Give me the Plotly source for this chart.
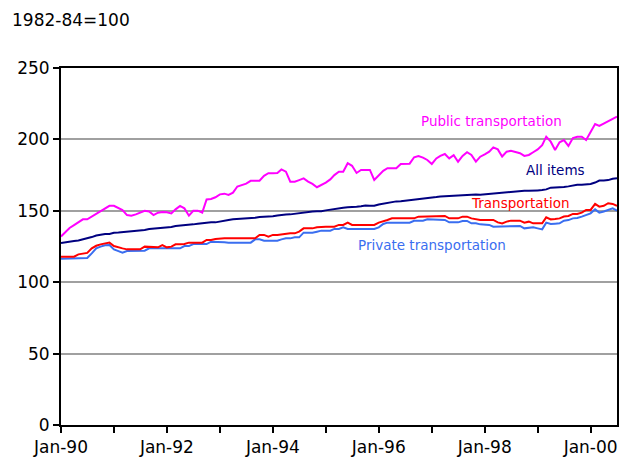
import pandas as pd
import plotly.graph_objects as go

months = pd.date_range("1990-01-01", periods=127, freq="MS")

public_transportation = [
    132, 135, 138, 140, 142, 144, 144, 146, 148, 150, 152, 153.5,
    153.5, 152, 150.5, 147, 146.5, 147.5, 148.5, 150, 149.5, 147, 148.7, 149.2,
    149, 148.2, 151, 153.4, 151.7, 146.6, 150, 150.1, 148.7, 158, 158.3, 159.5,
    161.5, 162, 161.1, 162.7, 167, 168.1, 169, 171, 171.1, 171.1, 174.5, 176.3,
    176.3, 176.5, 179, 177.4, 170.4, 170.4, 171.5, 172.7, 170.4, 168.8, 166.5, 168,
    169.7, 172, 175, 177.4, 177.4, 183.3, 181.5, 176.5, 178.6, 178.6, 178.6, 171.6,
    175, 178, 179.8, 179.8, 179.8, 182.8, 182.8, 183, 187.5, 188.4, 187.2, 185.6,
    182.8, 186.7, 188.5, 189.8, 186.7, 189, 184.4, 188.4, 191, 189.1, 184.4, 187.9,
    189.5, 191.4, 194.4, 193, 188, 191.4, 192.1, 191.4, 190.3, 188.4, 189.1, 191,
    193, 196, 201.9, 198.4, 192.6, 198, 199.5, 195.4, 201, 201.9, 201.9, 199.6,
    205, 210.8, 209.4, 211, 212.4, 214.5, 216,
]

all_items = [
    127.4, 128.0, 128.7, 128.9, 129.2, 129.9, 130.4, 131.6, 132.7, 133.5, 133.8, 133.8,
    134.6, 134.8, 135.0, 135.2, 135.6, 136.0, 136.2, 136.6, 137.2, 137.4, 137.8, 137.9,
    138.1, 138.6, 139.3, 139.5, 139.7, 140.2, 140.5, 140.9, 141.3, 141.8, 142.0, 141.9,
    142.6, 143.1, 143.6, 144.0, 144.2, 144.4, 144.4, 144.8, 145.1, 145.7, 145.8, 145.8,
    146.2, 146.7, 147.2, 147.4, 147.5, 148.0, 148.4, 149.0, 149.4, 149.5, 149.7, 149.7,
    150.3, 150.9, 151.4, 151.9, 152.2, 152.5, 152.5, 152.9, 153.2, 153.7, 153.6, 153.5,
    154.4, 154.9, 155.7, 156.3, 156.6, 156.7, 157.0, 157.3, 157.8, 158.3, 158.6, 158.6,
    159.1, 159.6, 160.0, 160.2, 160.1, 160.3, 160.5, 160.8, 161.2, 161.6, 161.5, 161.3,
    161.6, 161.9, 162.2, 162.5, 162.8, 163.0, 163.2, 163.4, 163.6, 164.0, 164.0, 163.9,
    164.3, 164.5, 165.0, 166.2, 166.2, 166.2, 166.7, 167.1, 167.9, 168.2, 168.3, 168.3,
    168.8, 169.8, 171.2, 171.3, 171.5, 172.4, 172.8,
]

transportation = [
    117.9, 117.9, 117.9, 117.9, 119.5, 120, 120.5, 123.7, 125.5, 126.5, 127.2, 127.7,
    125.3, 124.3, 123.7, 123, 123, 123, 123, 124.9, 124.9, 124.4, 124.4, 126,
    124.4, 124.9, 126.5, 126.5, 126.7, 127.7, 127.7, 127.7, 127.7, 129.6, 129.6, 130.3,
    130.7, 130.7, 130.7, 130.7, 130.7, 130.7, 130.7, 130.7, 130.7, 133.1, 133.1, 131.9,
    133.1, 133.1, 133.5, 133.5, 134.2, 134.2, 135.4, 137.7, 137.7, 137.7, 138.4, 138.9,
    138.9, 138.9, 138.9, 140.1, 140.1, 141.7, 140.1, 140.1, 140.1, 140.1, 140.1, 140.1,
    141.7, 142.5, 143.6, 144.7, 144.7, 144.7, 144.7, 144.7, 144.7, 145.9, 145.9, 146.4,
    146.4, 146.4, 146.4, 146.4, 144.7, 144.7, 144.7, 145.9, 145.9, 144.7, 144, 143.6,
    143.6, 143.6, 143.6, 141.9, 141.2, 142.4, 143.1, 143.1, 143.1, 141.7, 142.4, 141.2,
    141.2, 141.2, 145.4, 144, 144.2, 144.7, 146, 146.4, 147.8, 147.8, 148.7, 150.6,
    150.6, 154.8, 152.9, 153.5, 155.3, 154.8, 153.4,
]

private_transportation = [
    116.5, 116.5, 116.5, 116.5, 116.5, 116.5, 117, 120.2, 123.7, 124.9, 125.8, 126,
    123, 121.8, 120.7, 121.8, 121.8, 121.8, 121.8, 122.1, 123.7, 123.7, 123.7, 123.7,
    123.7, 123.7, 123.7, 123.7, 125.3, 125.3, 126.7, 126.7, 126.7, 126.7, 128.4, 128.4,
    128.4, 128, 127.7, 127.7, 127.7, 127.7, 127.7, 127.7, 130, 130, 129.1, 129.1,
    129.1, 129.1, 130, 130.7, 130.7, 131.4, 131.4, 134.7, 134.7, 134.7, 135.4, 136.1,
    136.1, 136.1, 137.3, 137.3, 138.4, 137.3, 137.3, 137.3, 137.3, 137.3, 137.3, 137.3,
    138.4, 140.8, 141.7, 141.7, 141.7, 141.7, 141.7, 141.7, 143, 143, 143, 144,
    144, 144, 143.6, 143.6, 141.9, 141.9, 141.9, 142.9, 142.9, 141.2, 141.2, 140.5,
    140.5, 140.1, 138.9, 138.9, 138.9, 139.4, 139.4, 139.4, 139.4, 137.7, 138, 138.4,
    137.7, 137, 141.7, 140.8, 141, 141.2, 143.1, 143.5, 144.7, 145, 145.9, 147.1,
    148.2, 151, 148.7, 149.5, 150.6, 151.7, 150.1,
]

tick_dates = pd.date_range("1990-01-01", periods=11, freq="YS")
tick_labels = ["Jan-90", "", "Jan-92", "", "Jan-94", "", "Jan-96", "", "Jan-98", "", "Jan-00"]

series_names = ["Public transportation", "All items", "Transportation", "Private transportation"]
series_colors = ["#FF00FF", "#000080", "#FF0000", "#3A6EF0"]
series_values = [public_transportation, all_items, transportation, private_transportation]

FONT = "DejaVu Sans"

fig = go.Figure()
for name, color, vals in reversed(list(zip(series_names, series_colors, series_values))):
    fig.add_trace(go.Scatter(x=months, y=vals, mode="lines", name=name,
                             line=dict(color=color, width=2), showlegend=False))

label_pos = {
    "Public transportation": ("1998-02-15", 213),
    "All items": ("1999-05-01", 178.5),
    "Transportation": ("1998-09-01", 155.5),
    "Private transportation": ("1997-01-01", 126),
}
for name, color in zip(series_names, series_colors):
    x, y = label_pos[name]
    fig.add_annotation(x=x, y=y, text=name, showarrow=False,
                       font=dict(color=color, size=13.5, family=FONT))

fig.add_annotation(xref="paper", yref="paper", x=-0.0917, y=1.134, xanchor="left", yanchor="middle",
                   text="1982-84=100", showarrow=False,
                   font=dict(size=17, color="black", family=FONT))

fig.update_layout(
    width=623, height=466,
    margin=dict(l=61, r=6, t=68, b=41, autoexpand=False),
    paper_bgcolor="white", plot_bgcolor="white",
    font=dict(family=FONT, size=17, color="black"),
)
fig.update_xaxes(
    type="date", range=["1990-01-01", "2000-07-01"],
    tickvals=list(tick_dates), ticktext=tick_labels,
    ticks="outside", ticklen=6, tickwidth=2, tickcolor="black",
    showgrid=False, showline=True, linecolor="black", linewidth=2, mirror=True,
    tickfont=dict(size=17), zeroline=False, automargin=False,
)
fig.update_yaxes(
    range=[0, 250], tickvals=[0, 50, 100, 150, 200, 250],
    ticks="outside", ticklen=6, tickwidth=2, tickcolor="black",
    showgrid=True, gridcolor="#A0A0A0", gridwidth=2,
    showline=True, linecolor="black", linewidth=2, mirror=True,
    tickfont=dict(size=17), zeroline=False, automargin=False,
)

fig.write_html("out.html", config={"displayModeBar": False},
               post_script="document.body.style.margin='0px';document.body.style.overflow='hidden';")
